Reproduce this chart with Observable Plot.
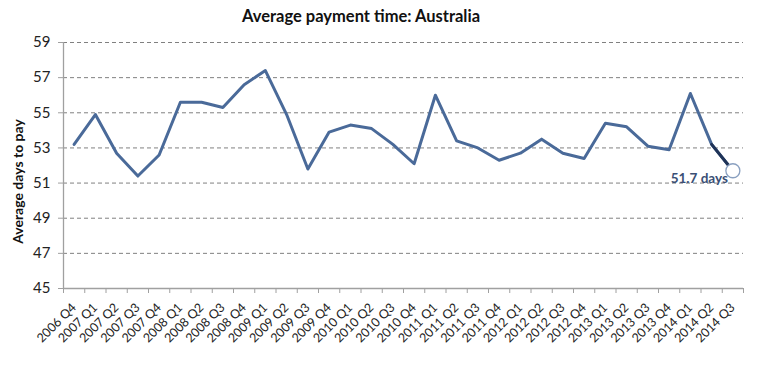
<!DOCTYPE html>
<html>
<head>
<meta charset="utf-8">
<script src="https://cdn.jsdelivr.net/npm/d3@7"></script>
<script src="https://cdn.jsdelivr.net/npm/@observablehq/plot@0.6"></script>
<style>
  html, body { margin: 0; padding: 0; background: #fff; }
  #title { width: 759px; height: 30px; line-height: 33px; box-sizing: border-box; padding-left: 242px;
           font-family: Lato, sans-serif; font-size: 16.5px; font-weight: bold; color: #111; }
  svg { display: block; }
</style>
</head>
<body>
<div id="title">Average payment time: Australia</div>
<div id="chart"></div>
<script>
const quarters = ["2006 Q4","2007 Q1","2007 Q2","2007 Q3","2007 Q4","2008 Q1","2008 Q2","2008 Q3","2008 Q4",
  "2009 Q1","2009 Q2","2009 Q3","2009 Q4","2010 Q1","2010 Q2","2010 Q3","2010 Q4",
  "2011 Q1","2011 Q2","2011 Q3","2011 Q4","2012 Q1","2012 Q2","2012 Q3","2012 Q4",
  "2013 Q1","2013 Q2","2013 Q3","2013 Q4","2014 Q1","2014 Q2","2014 Q3"];
const days = [53.2,54.9,52.7,51.4,52.6,55.6,55.6,55.3,56.6,
  57.4,54.9,51.8,53.9,54.3,54.1,53.2,52.1,
  56.0,53.4,53.0,52.3,52.7,53.5,52.7,52.4,
  54.4,54.2,53.1,52.9,56.1,53.2,51.7];
const yTicks = [45,47,49,51,53,55,57,59];
const yLabel = "Average days to pay";
const endLabel = "51.7 days";

const data = quarters.map((q, i) => ({i, q, v: days[i]}));
const last2 = data.slice(-2);
const lastPt = data.slice(-1);
const idx = data.map(d => d.i);
const bounds = d3.range(-0.5, quarters.length, 1);

const chart = Plot.plot({
  width: 759,
  height: 346,
  marginLeft: 63,
  marginRight: 16,
  marginTop: 12,
  marginBottom: 88,
  style: {fontFamily: "Lato, sans-serif", background: "#fff"},
  x: {type: "linear", domain: [-0.5, quarters.length - 0.5]},
  y: {domain: [45, 59]},
  marks: [
    Plot.gridY(yTicks.filter(t => t > 45), {stroke: "#808080", strokeOpacity: 1, strokeDasharray: "4,3", strokeWidth: 1}),
    Plot.ruleY([45], {stroke: "#a0a0a0", strokeWidth: 1.3}),
    Plot.ruleX([-0.5], {stroke: "#a0a0a0", strokeWidth: 1.3}),
    Plot.axisY({ticks: yTicks, tickSize: 5, tickPadding: 8, fontSize: 15, stroke: "#a0a0a0", fill: "#222", label: null}),
    Plot.axisX({ticks: bounds, tickSize: 5, tickFormat: () => "", stroke: "#a0a0a0", label: null}),
    Plot.axisX({ticks: idx, tickSize: 0, tickPadding: 17, tickRotate: -45, fontSize: 12.5, fill: "#222",
                tickFormat: i => quarters[i], label: null}),
    Plot.text([yLabel], {frameAnchor: "left", textAnchor: "middle", rotate: -90, dx: -45, dy: 16,
                         fontSize: 14, fontWeight: "bold", fill: "#111"}),
    Plot.line(data, {x: "i", y: "v", stroke: "#4a6a99", strokeWidth: 3, strokeLinejoin: "round"}),
    Plot.line(last2, {x: "i", y: "v", stroke: "#1f3357", strokeWidth: 3}),
    Plot.dot(lastPt, {x: "i", y: "v", r: 7, fill: "#fff", stroke: "#8aa0c0", strokeWidth: 1.3}),
    Plot.text(lastPt, {x: "i", y: "v", text: () => endLabel, dx: -5, dy: 8, textAnchor: "end",
                       fontSize: 13.5, fontWeight: "bold", fill: "#3a4f75"})
  ]
});
document.getElementById("chart").appendChild(chart);
</script>
</body>
</html>
